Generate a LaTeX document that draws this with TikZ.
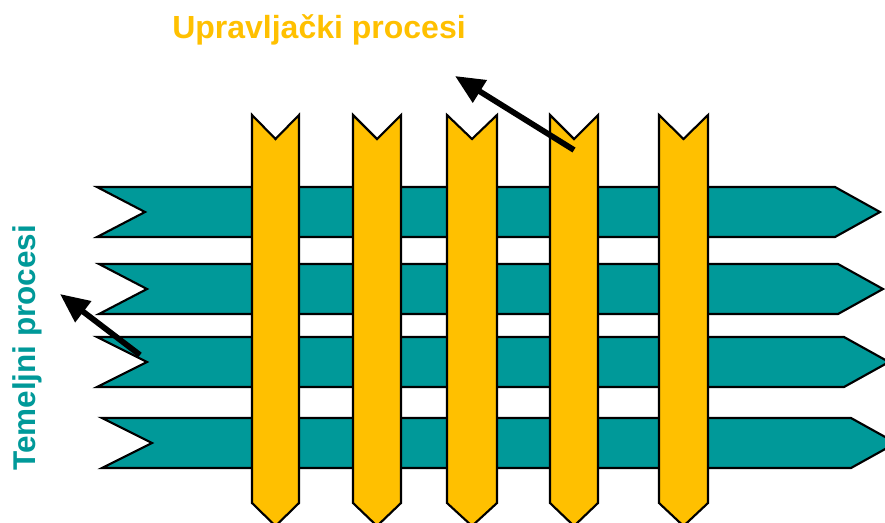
\documentclass[tikz,border=0pt]{standalone}
\usepackage{fontspec}
\setmainfont{Liberation Sans}
\usetikzlibrary{arrows.meta}
\definecolor{tealband}{RGB}{0,153,153}
\definecolor{goldbar}{RGB}{255,192,0}
\begin{document}
\begin{tikzpicture}[x=0.75pt,y=-0.75pt,
  bandshape/.style={fill=tealband,draw=black,line width=1.6pt,line join=miter},
  barshape/.style={fill=goldbar,draw=black,line width=1.6pt,line join=miter},
  pointer/.style={line width=4.3pt,-{Triangle[length=22pt,width=19pt]}},
  titletext/.style={text=goldbar,font=\fontsize{24pt}{28pt}\selectfont\bfseries,inner sep=0pt},
  sidetext/.style={text=tealband,font=\fontsize{23.6pt}{28pt}\selectfont\bfseries,inner sep=0pt}]
\useasboundingbox (0,0) rectangle (885,522);
\clip (0,0) rectangle (885,522);
% teal bands: left, top, bottom, notch, end, tip
\foreach \L/\T/\B/\N/\E/\P in {97/187/237/145/835/880, 99/264/314/147/838/883, 97/337/387/147/844/889, 102/418/468/152/851/896}{
  \pgfmathsetmacro{\M}{(\T+\B)/2}
  \draw[bandshape] (\L,\T) -- (\E,\T) -- (\P,\M) -- (\E,\B) -- (\L,\B) -- (\N,\M) -- cycle;
}
% yellow bars
\foreach \a/\b in {252/299, 353/401, 447/497, 550/598, 659/708}{
  \pgfmathsetmacro{\c}{(\a+\b)/2}
  \draw[barshape] (\a,115) -- (\c,139) -- (\b,115) -- (\b,503) -- (\c,526) -- (\a,503) -- cycle;
}
% labels
\node[titletext,anchor=base west] (title) at (172,38) {Upravljački procesi};
\node[sidetext,rotate=90,anchor=base west] (side) at (35,471) {Temeljni procesi};
% arrows
\coordinate (t1) at (574,150);
\coordinate (h1) at (455,76);
\coordinate (t2) at (140,355);
\coordinate (h2) at (60,294);
\draw[pointer] (t1) -- (h1);
\draw[pointer] (t2) -- (h2);
\end{tikzpicture}
\end{document}
